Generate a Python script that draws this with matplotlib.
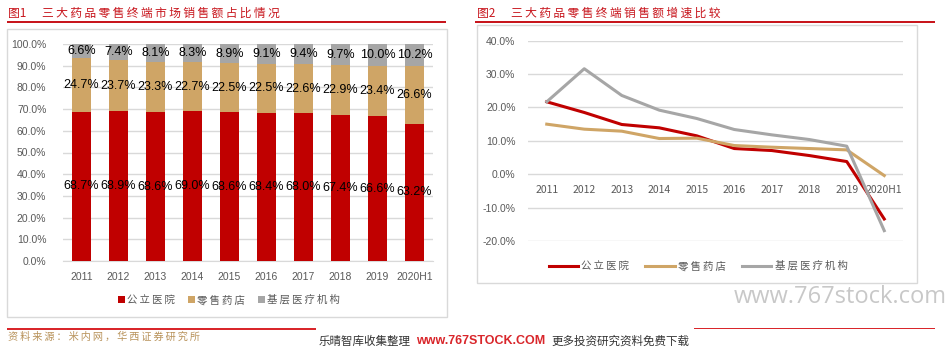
import numpy as np
import matplotlib
matplotlib.use('Agg')
import matplotlib.pyplot as plt
from matplotlib.patches import Rectangle

plt.rcParams['font.family'] = ['Noto Sans CJK SC', 'DejaVu Sans']

#%% data
years = ['2011', '2012', '2013', '2014', '2015', '2016', '2017', '2018', '2019', '2020H1']
series_names = ['公立医院', '零售药店', '基层医疗机构']
share_public = [68.7, 68.9, 68.6, 69.0, 68.6, 68.4, 68.0, 67.4, 66.6, 63.2]
share_retail = [24.7, 23.7, 23.3, 22.7, 22.5, 22.5, 22.6, 22.9, 23.4, 26.6]
share_grass = [6.6, 7.4, 8.1, 8.3, 8.9, 9.1, 9.4, 9.7, 10.0, 10.2]
growth_public = [21.7, 18.5, 14.9, 13.9, 11.5, 7.7, 7.1, 5.6, 3.8, -13.4]
growth_retail = [15.0, 13.5, 12.9, 10.7, 10.8, 8.6, 8.1, 7.7, 7.3, -0.4]
growth_grass = [21.7, 31.6, 23.6, 19.2, 16.7, 13.4, 11.8, 10.4, 8.4, -16.9]

c_red = '#C00000'
c_gold = '#CFA566'
c_gray = '#A6A6A6'
c_grid = '#D9D9D9'
c_tick = '#595959'
num_font = ['Liberation Sans', 'DejaVu Sans']

W, H = 953, 354
fig = plt.figure(figsize=(W / 100, H / 100), dpi=100)


def spaced(s):
    # the report font is letter-spaced, imitate with thin spaces
    return '\u2009'.join(s)


def px_axes(x0, y0, x1, y1):
    return fig.add_axes([x0 / W, 1 - y1 / H, (x1 - x0) / W, (y1 - y0) / H])


def px_rect(x0, y0, x1, y1, **kw):
    fig.patches.append(Rectangle((x0 / W, 1 - y1 / H), (x1 - x0) / W, (y1 - y0) / H,
                                 transform=fig.transFigure, **kw))


def px_text(x, y, s, **kw):
    fig.text(x / W, 1 - y / H, s, **kw)


#%% frames, titles, decorations
px_rect(7, 29, 447, 317, fill=False, ec='#D9D9D9', lw=1)
px_rect(477, 25, 917, 283, fill=False, ec='#D9D9D9', lw=1)
px_rect(7, 20.8, 446, 22.6, color='#C8161D', lw=0)
px_rect(475, 20.8, 935, 22.6, color='#C8161D', lw=0)
px_rect(7, 328, 316, 329.6, color='#D9262B', lw=0)
px_rect(694, 327.5, 935, 329, color='#D9262B', lw=0)

px_text(8, 13, '图1', color='#C8161D', fontsize=8.5, va='center', ha='left')
px_text(42, 13, spaced('三大药品零售终端市场销售额占比情况'), color='#C8161D', fontsize=8.5,
        va='center', ha='left')
px_text(477, 13, '图2', color='#C8161D', fontsize=8.5, va='center', ha='left')
px_text(511, 13, spaced('三大药品零售终端销售额增速比较'), color='#C8161D', fontsize=8.5,
        va='center', ha='left')
px_text(8, 337, spaced('资料来源：米内网，华西证券研究所'), color='#B8925A', fontsize=7.3,
        va='center', ha='left')
px_text(319, 341, '乐晴智库收集整理', color='#333333', fontsize=8.3, va='center', ha='left')
px_text(416, 341, 'www.767STOCK.COM', color='#D9262B', fontsize=9, va='center', ha='left',
        fontweight='bold', family=num_font)
px_text(551, 341, '更多投资研究资料免费下载', color='#333333', fontsize=8.3, va='center', ha='left')
px_text(734, 297, 'www.767stock.com', color='#C8C8C8', fontsize=17, va='center', ha='left',
        family=['Open Sans', 'DejaVu Sans'])

#%% left chart: stacked bars
ax1 = px_axes(63, 44, 433, 261)
x = np.arange(len(years))
bw = 0.54
ax1.bar(x, share_public, bw, color=c_red, zorder=3, label=spaced(series_names[0]))
ax1.bar(x, share_retail, bw, bottom=share_public, color=c_gold, zorder=3,
        label=spaced(series_names[1]))
bottom2 = np.array(share_public) + np.array(share_retail)
ax1.bar(x, share_grass, bw, bottom=bottom2, color=c_gray, zorder=3,
        label=spaced(series_names[2]))

for i in range(len(years)):
    ax1.text(x[i], share_public[i] / 2, '%.1f%%' % share_public[i], ha='center', va='center',
             fontsize=9, color='black', zorder=4, family=num_font)
    ax1.text(x[i], share_public[i] + share_retail[i] / 2, '%.1f%%' % share_retail[i],
             ha='center', va='center', fontsize=9, color='black', zorder=4, family=num_font)
    ax1.text(x[i], bottom2[i] + share_grass[i] / 2, '%.1f%%' % share_grass[i], ha='center',
             va='center', fontsize=9, color='black', zorder=4, family=num_font)

ax1.set_xlim(-0.5, len(years) - 0.5)
ax1.set_ylim(0, 100)
ax1.set_yticks(np.arange(0, 101, 10))
ax1.set_yticklabels(['%.1f%%' % v for v in np.arange(0, 101, 10)], family=num_font)
ax1.set_xticks(x)
ax1.set_xticklabels(years, family=num_font)
ax1.tick_params(length=0, labelsize=7.5, labelcolor=c_tick)
ax1.tick_params(axis='y', pad=12)
ax1.tick_params(axis='x', pad=8)
ax1.grid(axis='y', color=c_grid, lw=1, zorder=0)
for s in ['top', 'right', 'left']:
    ax1.spines[s].set_visible(False)
ax1.spines['bottom'].set_color(c_grid)
ax1.legend(loc='center', bbox_to_anchor=(229 / W, 1 - 300 / H), bbox_transform=fig.transFigure,
           ncol=3, frameon=False, fontsize=7.5, handlelength=0.7, handleheight=0.7,
           handletextpad=0.2, columnspacing=1.2, labelcolor=c_tick)

#%% right chart: growth lines
ax2 = px_axes(528, 40.7, 903, 241)
ax2.plot(x, growth_public, color=c_red, lw=2.2, label=spaced(series_names[0]), zorder=3)
ax2.plot(x, growth_retail, color=c_gold, lw=2.2, label=spaced(series_names[1]), zorder=3)
ax2.plot(x, growth_grass, color=c_gray, lw=2.2, label=spaced(series_names[2]), zorder=3)
ax2.set_xlim(-0.5, len(years) - 0.5)
ax2.set_ylim(-20, 40)
ax2.set_yticks(np.arange(-20, 41, 10))
ax2.set_yticklabels(['%.1f%%' % v for v in np.arange(-20, 41, 10)], family=num_font)
ax2.set_xticks(x)
ax2.set_xticklabels(years, family=num_font)
ax2.tick_params(length=0, labelsize=7.5, labelcolor=c_tick)
ax2.tick_params(axis='y', pad=9)
ax2.tick_params(axis='x', pad=8)
ax2.spines['bottom'].set_position(('data', 0))
for s in ['top', 'right', 'left', 'bottom']:
    ax2.spines[s].set_visible(False)
ax2.grid(axis='y', color=c_grid, lw=1, zorder=0)
ax2.legend(loc='center', bbox_to_anchor=(698 / W, 1 - 266 / H), bbox_transform=fig.transFigure,
           ncol=3, frameon=False, fontsize=7.5, handlelength=2.8, handletextpad=0.3,
           columnspacing=1.6, labelcolor=c_tick)

plt.savefig('out.png', dpi=100)
